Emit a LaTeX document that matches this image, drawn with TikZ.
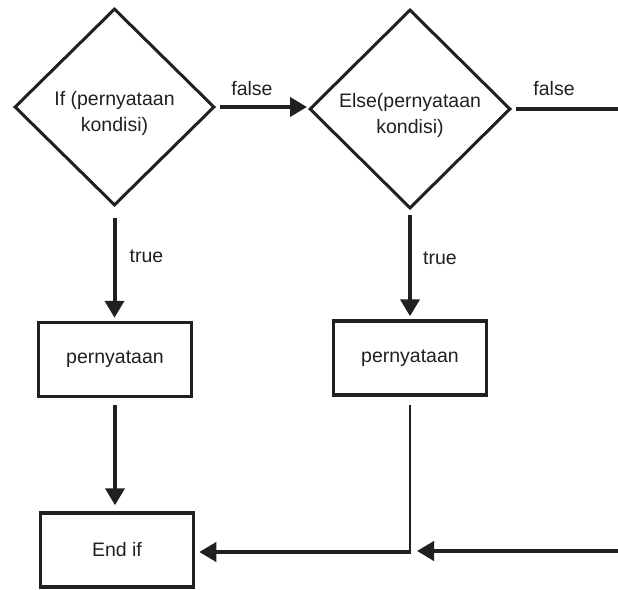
\documentclass[tikz,border=0pt]{standalone}
\usepackage{fontspec}
\setmainfont{Liberation Sans}
\usetikzlibrary{shapes.geometric,arrows.meta}
\definecolor{ink}{HTML}{231F20}
\begin{document}
\begin{tikzpicture}[x=1pt,y=-1pt,
  font=\fontsize{19.5}{26}\selectfont, color=ink,
  dec/.style={diamond, draw=ink, line width=3pt, minimum width=200pt, minimum height=197pt, inner sep=0pt},
  box/.style={rectangle, draw=ink, line width=3.5pt, minimum width=153pt, minimum height=74pt, inner sep=0pt},
  flow/.style={draw=ink, line width=4pt, -{Triangle[length=17pt,width=19pt]}},
  plainline/.style={draw=ink, line width=4pt},
  thinline/.style={draw=ink, line width=2pt},
  lbl/.style={anchor=base, inner sep=0pt, text=ink}]
\useasboundingbox (0,0) rectangle (618,589);

\node[dec, label={[yshift=-6pt,align=center,text=ink]center:If (pernyataan\\kondisi)}] (d1) at (114.5,107) {};
\node[dec, minimum width=201pt, minimum height=199pt, label={[yshift=-6pt,align=center,text=ink]center:Else(pernyataan\\kondisi)}] (d2) at (410,109) {};
\node[box] (b1) at (115,359.5) {pernyataan};
\node[box] (b2) at (410,358) {pernyataan};
\node[box] (endif) at (117,550) {End if};

\coordinate (rf) at (618,111);
\coordinate (rin) at (618,551);
\coordinate (corner) at (410,552);

\draw[flow, shorten <=4pt, shorten >=1pt] (d1.east) -- (d1.east -| d2.west);
\draw[plainline, shorten <=4pt] (d2.east) -- (d2.east -| rf);
\draw[flow, shorten <=11pt, shorten >=3pt] (d1.south) -- (d1.south |- b1.north);
\draw[flow, shorten <=5pt, shorten >=3pt] (d2.south) -- (d2.south |- b2.north);
\draw[flow, shorten <=7pt, shorten >=6pt] (b1.south) -- (b1.south |- endif.north);
\draw[thinline, shorten <=8pt] (b2.south) -- ([yshift=-2pt]corner);
\draw[flow, shorten >=4pt] ([xshift=1pt]corner) -- (corner -| endif.east);
\draw[flow, shorten >=7pt] (rin) -- (rin -| corner);

\node[lbl] (f1) at (252,95) {false};
\node[lbl] (f2) at (554,95) {false};
\node[lbl] (t1) at (146.5,262) {true};
\node[lbl] (t2) at (440,264) {true};
\end{tikzpicture}
\end{document}
